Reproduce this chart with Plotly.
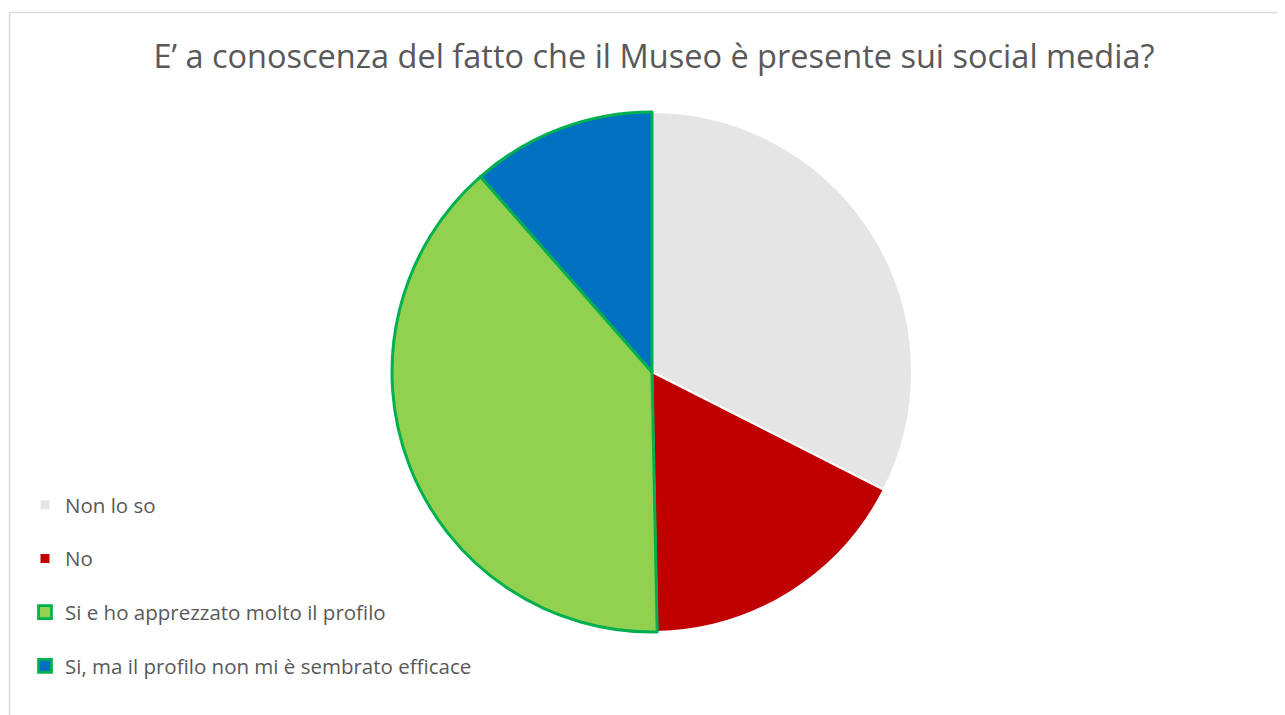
import plotly.graph_objects as go

# Data
labels = ["Non lo so", "No", "Si e ho apprezzato molto il profilo", "Si, ma il profilo non mi è sembrato efficace"]
values = [51, 27, 61, 18]
colors = ["#E5E5E5", "#C00000", "#92D050", "#0070C0"]
line_colors = ["#FFFFFF", "#FFFFFF", "#00B050", "#00B050"]
line_widths = [2, 2, 3, 3]
title_text = "E’ a conoscenza del fatto che il Museo è presente sui social media?"

# page has an 8px body margin; work in figure coords = screen - 8
OFF = 8
W, H = 1285 - OFF, 715 - OFF
FONT = "Open Sans"
TXT = "#595959"


def px_x(sx):
    return (sx - OFF) / W


def px_y(sy):
    return 1 - (sy - OFF) / H


fig = go.Figure()

fig.add_trace(go.Pie(
    labels=labels,
    values=values,
    sort=False,
    direction="clockwise",
    rotation=0,
    textinfo="none",
    hoverinfo="label+value+percent",
    marker=dict(colors=colors, line=dict(color=line_colors, width=line_widths)),
    showlegend=False,
    domain=dict(x=[px_x(392), px_x(912)], y=[px_y(632), px_y(112)]),
))

# Legend entries (one group per category for spacing)
for i, lab in enumerate(labels):
    bordered = i >= 2
    fig.add_trace(go.Scatter(
        x=[None], y=[None], mode="markers", name=lab,
        legendgroup=f"g{i}",
        marker=dict(symbol="square", size=13 if bordered else 9, color=colors[i],
                    line=dict(color=line_colors[i] if bordered else colors[i], width=2.7 if bordered else 0)),
        hoverinfo="skip",
    ))

fig.update_layout(
    width=W, height=H,
    margin=dict(l=0, r=0, t=0, b=0),
    paper_bgcolor="white", plot_bgcolor="white",
    title=dict(text=title_text, x=px_x(654), xanchor="center", y=px_y(57), yanchor="middle",
               font=dict(family=FONT, size=32.5, color=TXT)),
    xaxis=dict(visible=False), yaxis=dict(visible=False),
    legend=dict(x=(17) / W, xanchor="left", y=px_y(485), yanchor="top",
                font=dict(family=FONT, size=20.5, color=TXT),
                tracegroupgap=24, bgcolor="rgba(0,0,0,0)", itemclick=False, itemdoubleclick=False),
    shapes=[dict(type="rect", xref="paper", yref="paper",
                 x0=px_x(9.5), x1=1.2, y0=-0.2, y1=px_y(12.5),
                 line=dict(color="#D9D9D9", width=1.5), fillcolor="rgba(0,0,0,0)", layer="below")],
)

fig.write_html("out.html")
